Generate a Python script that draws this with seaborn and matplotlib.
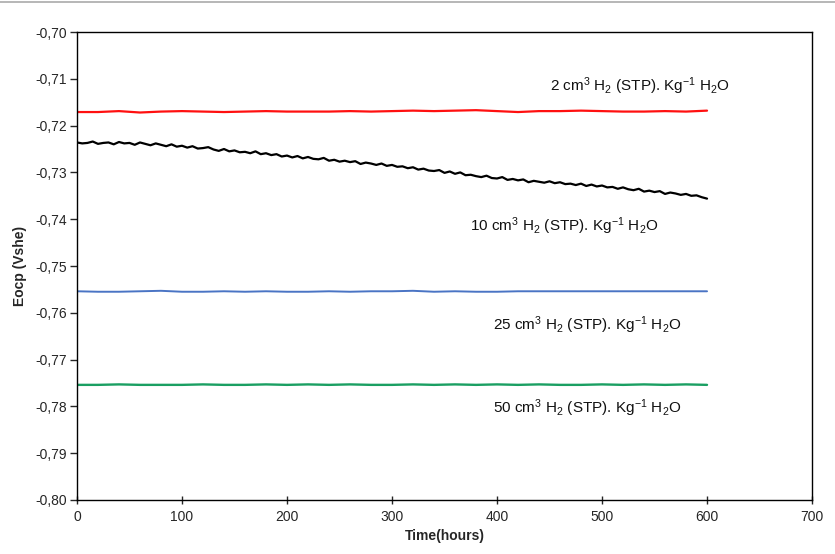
import numpy as np
import pandas as pd
import matplotlib
matplotlib.use("Agg")
import matplotlib.pyplot as plt
from matplotlib.ticker import FuncFormatter, MultipleLocator
import seaborn as sns

# Open circuit potential vs time
HOURS_FINE = list(range(0, 601, 5))
HOURS_COARSE = list(range(0, 601, 20))

EOCP_10 = [
    -0.7236, -0.7238, -0.7237, -0.7234, -0.7239, -0.7237, -0.7236, -0.7240, -0.7235, -0.7238,
    -0.7237, -0.7241, -0.7236, -0.7239, -0.7242, -0.7238, -0.7241, -0.7244, -0.7240, -0.7245,
    -0.7243, -0.7247, -0.7244, -0.7249, -0.7248, -0.7246, -0.7251, -0.7254, -0.7250, -0.7255,
    -0.7253, -0.7257, -0.7256, -0.7259, -0.7255, -0.7261, -0.7259, -0.7263, -0.7261, -0.7266,
    -0.7264, -0.7268, -0.7265, -0.7270, -0.7267, -0.7271, -0.7272, -0.7269, -0.7275, -0.7273,
    -0.7277, -0.7275, -0.7278, -0.7276, -0.7282, -0.7279, -0.7281, -0.7284, -0.7281, -0.7286,
    -0.7284, -0.7288, -0.7287, -0.7291, -0.7289, -0.7294, -0.7292, -0.7296, -0.7297, -0.7295,
    -0.7301, -0.7298, -0.7303, -0.7300, -0.7306, -0.7305, -0.7308, -0.7310, -0.7307, -0.7312,
    -0.7313, -0.7310, -0.7316, -0.7314, -0.7317, -0.7315, -0.7321, -0.7318, -0.7320, -0.7322,
    -0.7319, -0.7323, -0.7321, -0.7325, -0.7324, -0.7327, -0.7324, -0.7329, -0.7326, -0.7330,
    -0.7328, -0.7332, -0.7331, -0.7335, -0.7332, -0.7336, -0.7338, -0.7335, -0.7341, -0.7339,
    -0.7342, -0.7340, -0.7346, -0.7343, -0.7345, -0.7348, -0.7346, -0.7350, -0.7349, -0.7353,
    -0.7356,
]
EOCP_2 = [
    -0.7171, -0.7171, -0.7169, -0.7172, -0.7170, -0.7169, -0.7170, -0.7171, -0.7170, -0.7169,
    -0.7170, -0.7170, -0.7170, -0.7169, -0.7170, -0.7169, -0.7168, -0.7169, -0.7168, -0.7167,
    -0.7169, -0.7171, -0.7169, -0.7169, -0.7168, -0.7169, -0.7170, -0.7170, -0.7169, -0.7170,
    -0.7168,
]
EOCP_25 = [
    -0.7554, -0.7555, -0.7555, -0.7554, -0.7553, -0.7555, -0.7555, -0.7554, -0.7555, -0.7554,
    -0.7555, -0.7555, -0.7554, -0.7555, -0.7554, -0.7554, -0.7553, -0.7555, -0.7554, -0.7555,
    -0.7555, -0.7554, -0.7554, -0.7554, -0.7554, -0.7554, -0.7554, -0.7554, -0.7554, -0.7554,
    -0.7554,
]
EOCP_50 = [
    -0.7754, -0.7754, -0.7753, -0.7754, -0.7754, -0.7754, -0.7753, -0.7754, -0.7754, -0.7753,
    -0.7754, -0.7753, -0.7754, -0.7753, -0.7754, -0.7754, -0.7753, -0.7754, -0.7753, -0.7754,
    -0.7753, -0.7754, -0.7753, -0.7754, -0.7754, -0.7753, -0.7754, -0.7753, -0.7754, -0.7753,
    -0.7754,
]

LABELS = [
    r"2 cm$^3$ H$_2$ (STP). Kg$^{-1}$ H$_2$O",
    r"10 cm$^3$ H$_2$ (STP). Kg$^{-1}$ H$_2$O",
    r"25 cm$^3$ H$_2$ (STP). Kg$^{-1}$ H$_2$O",
    r"50 cm$^3$ H$_2$ (STP). Kg$^{-1}$ H$_2$O",
]
LABEL_POS = [(450, -0.7115), (374, -0.7415), (396, -0.7627), (396, -0.7803)]
COLOURS = ["#ff1010", "#000000", "#4a74c4", "#1a9f62"]
WIDTHS = [1.6, 1.6, 1.4, 1.7]

series = [
    (HOURS_COARSE, EOCP_2),
    (HOURS_FINE, EOCP_10),
    (HOURS_COARSE, EOCP_25),
    (HOURS_COARSE, EOCP_50),
]
frames = []
for lab, (t, v) in zip(LABELS, series):
    frames.append(pd.DataFrame({"hours": t, "eocp": v, "case": lab}))
df = pd.concat(frames, ignore_index=True)

sns.set_theme(style="ticks")
plt.rcParams["font.family"] = ["Liberation Sans", "DejaVu Sans"]
plt.rcParams["mathtext.fontset"] = "custom"
plt.rcParams["mathtext.rm"] = "Liberation Sans"
plt.rcParams["mathtext.it"] = "Liberation Sans"

fig = plt.figure(figsize=(8.35, 5.54), dpi=100)
ax = fig.add_axes([0.0922, 0.0975, 0.8803, 0.8447])

for lab, col, lw in zip(LABELS, COLOURS, WIDTHS):
    sns.lineplot(
        data=df[df["case"] == lab], x="hours", y="eocp",
        ax=ax, color=col, linewidth=lw, legend=False,
    )

for lab, (x, y) in zip(LABELS, LABEL_POS):
    ax.text(x, y, lab, fontsize=11, ha="left", va="center", color="#111111")

ax.set_xlim(0, 700)
ax.set_ylim(-0.80, -0.70)
ax.xaxis.set_major_locator(MultipleLocator(100))
ax.yaxis.set_major_locator(MultipleLocator(0.01))
ax.yaxis.set_major_formatter(FuncFormatter(lambda v, _: f"{v:.2f}".replace(".", ",")))
ax.tick_params(axis="y", direction="out", length=5, width=1, labelsize=10, pad=2)
ax.tick_params(axis="x", direction="inout", length=6, width=1, labelsize=10, pad=4)

for s in ax.spines.values():
    s.set_visible(True)
    s.set_color("black")
    s.set_linewidth(1.0)

ax.set_xlabel("Time(hours)", fontsize=10, fontweight="bold", labelpad=4)
ax.set_ylabel("Eocp (Vshe)", fontsize=10, fontweight="bold", labelpad=6)

# thin grey frame line across the top of the image
fig.add_artist(plt.Line2D([0, 1], [0.997, 0.997], color="#aaaaaa", linewidth=1.2,
                          transform=fig.transFigure))

fig.savefig("out.png", dpi=100, facecolor="white")
